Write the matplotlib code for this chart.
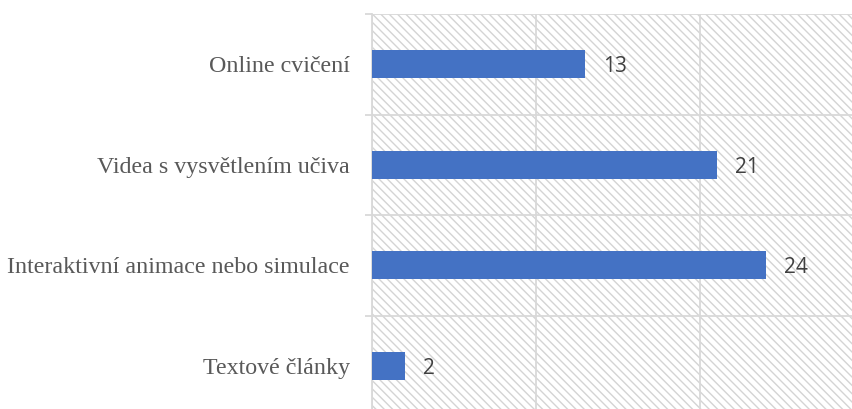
import matplotlib
matplotlib.use("Agg")
import matplotlib.pyplot as plt
from matplotlib.patches import Rectangle
import numpy as np

categories = ["Textové články",
              "Interaktivní animace nebo simulace",
              "Videa s vysvětlením učiva",
              "Online cvičení"]
values = [2, 24, 21, 13]

bar_color = "#4472C4"
grid_color = "#d9d9d9"
plt.rcParams["hatch.linewidth"] = 1.0

fig = plt.figure(figsize=(8.52, 4.09), dpi=100)
ax = fig.add_axes([372 / 852, 1 - 416 / 409, 492.6 / 852, 402 / 409])

# hatched plot area background
bg = Rectangle((0, 0), 1, 1, transform=ax.transAxes, facecolor="white",
               edgecolor="#d4d4d4", linewidth=0, hatch="\\\\\\\\", zorder=0)
ax.add_patch(bg)
ax.patch.set_visible(False)

y = np.arange(len(categories))
ax.barh(y, values, height=0.28, color=bar_color, zorder=3)

for yi, v in zip(y, values):
    ax.text(v + 1.1, yi - 0.025, str(v), va="center", ha="left",
            fontsize=15, color="#404040", family="Open Sans", zorder=4)

ax.set_xlim(0, 30)
ax.set_ylim(-0.5, len(categories) - 0.5)

ax.set_xticks([0, 10, 20, 30])
ax.set_xticklabels([])
ax.tick_params(axis="x", length=0)
ax.grid(axis="x", color=grid_color, linewidth=1.3, zorder=1)

ax.set_yticks(y)
ax.set_yticklabels(categories, family="Liberation Serif", fontsize=17.3,
                   color="#595959")
ax.set_yticks(np.arange(-0.5, len(categories), 1.0), minor=True)
ax.tick_params(axis="y", which="major", length=0, pad=16)
ax.tick_params(axis="y", which="minor", length=5, color=grid_color, width=1.3)
ax.grid(axis="y", which="minor", color=grid_color, linewidth=1.3, zorder=1)

for s in ["top", "right", "bottom"]:
    ax.spines[s].set_visible(False)
ax.spines["left"].set_color(grid_color)
ax.spines["left"].set_linewidth(1.3)
ax.spines["left"].set_zorder(2)

fig.savefig("out.png", dpi=100)
